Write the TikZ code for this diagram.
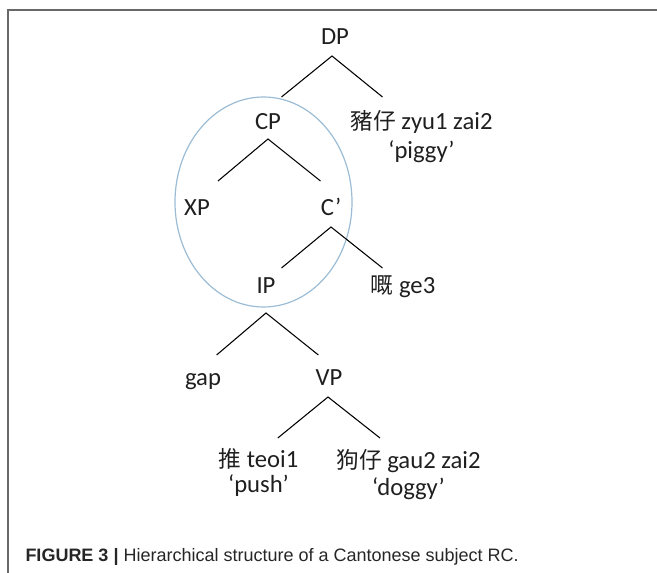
\documentclass[tikz,border=0pt]{standalone}
\usepackage{fontspec}
\setmainfont{Carlito}
\newfontfamily\cjkfont[Scale=0.92]{Noto Sans CJK TC}
\newfontfamily\capfont{Liberation Sans}
\begin{document}
\tikzset{every picture/.style={line width=0.75pt}}
\tikzset{
	cat/.style={anchor=base, text=black!88, inner sep=0pt, font=\fontsize{18.5}{22}\selectfont},
	word/.style={cat, align=center},
	branch/.style={draw=black, line width=0.8pt},
	ring/.style={draw={rgb, 255:red, 155; green, 188; blue, 212}, line width=0.9pt},
	frameline/.style={draw={rgb, 255:red, 105; green, 105; blue, 105}, line width=1.5pt},
}
\begin{tikzpicture}[x=0.75pt,y=0.75pt,yscale=-1,xscale=1]
	\useasboundingbox (0,0) rectangle (657,573);

	%Straight Lines (frame)
	\draw [frameline] (7,10) -- (657,10) ;
	\draw [frameline] (8,10) -- (8,573) ;

	%Shape: Ellipse
	\draw [ring] (263.5,202) ellipse [x radius=88.5, y radius=105] ;

	% Text Node
	\draw (335,44.5) node [cat] (dp) {DP};
	% Text Node
	\draw (268,129.5) node [cat] (cp) {CP};
	% Text Node
	\draw (421.5,159) node [word] (piggy) {{\cjkfont 豬仔} zyu1 zai2\\‘piggy’};
	% Text Node
	\draw (197,215.5) node [cat] (xp) {XP};
	% Text Node
	\draw (331,215.5) node [cat] (cbar) {C’};
	% Text Node
	\draw (266,293.5) node [cat] (ip) {IP};
	% Text Node
	\draw (403,293.5) node [cat] (ge) {{\cjkfont 嘅} ge3};
	% Text Node
	\draw (203,386) node [cat] (gap) {gap};
	% Text Node
	\draw (329,386) node [cat] (vp) {VP};
	% Text Node
	\draw (258.5,493) node [word] (push) {{\cjkfont 推} teoi1\\[-3pt]‘push’};
	% Text Node
	\draw (408.5,495) node [word] (doggy) {{\cjkfont 狗仔} gau2 zai2\\[-2pt]‘doggy’};

	%Coordinates of the branch ends
	\coordinate (dp-b) at (332,56) ;
	\coordinate (cp-t) at (281.5,97) ;
	\coordinate (piggy-t) at (382.5,97) ;
	\coordinate (cp-b) at (268,139) ;
	\coordinate (xp-t) at (218,181) ;
	\coordinate (cbar-t) at (320.5,181) ;
	\coordinate (cbar-b) at (331,227) ;
	\coordinate (ip-t) at (281.5,268) ;
	\coordinate (ge-t) at (382.5,268) ;
	\coordinate (ip-b) at (266,313) ;
	\coordinate (gap-t) at (216.6,355) ;
	\coordinate (vp-t) at (318.4,355) ;
	\coordinate (vp-b) at (328,397) ;
	\coordinate (push-t) at (277.8,438) ;
	\coordinate (doggy-t) at (380,438) ;

	%Straight Lines
	\draw [branch] (cp-t) -- (dp-b) -- (piggy-t) ;
	%Straight Lines
	\draw [branch] (xp-t) -- (cp-b) -- (cbar-t) ;
	%Straight Lines
	\draw [branch] (ip-t) -- (cbar-b) -- (ge-t) ;
	%Straight Lines
	\draw [branch] (gap-t) -- (ip-b) -- (vp-t) ;
	%Straight Lines
	\draw [branch] (push-t) -- (vp-b) -- (doggy-t) ;

	% Text Node
	\draw (25,561.7) node [anchor=base west, inner sep=0pt, text=black!85, font=\capfont\fontsize{13.5}{16}\selectfont] (caption) {\textbf{FIGURE 3 |} Hierarchical structure of a Cantonese subject RC.};

\end{tikzpicture}
\end{document}
